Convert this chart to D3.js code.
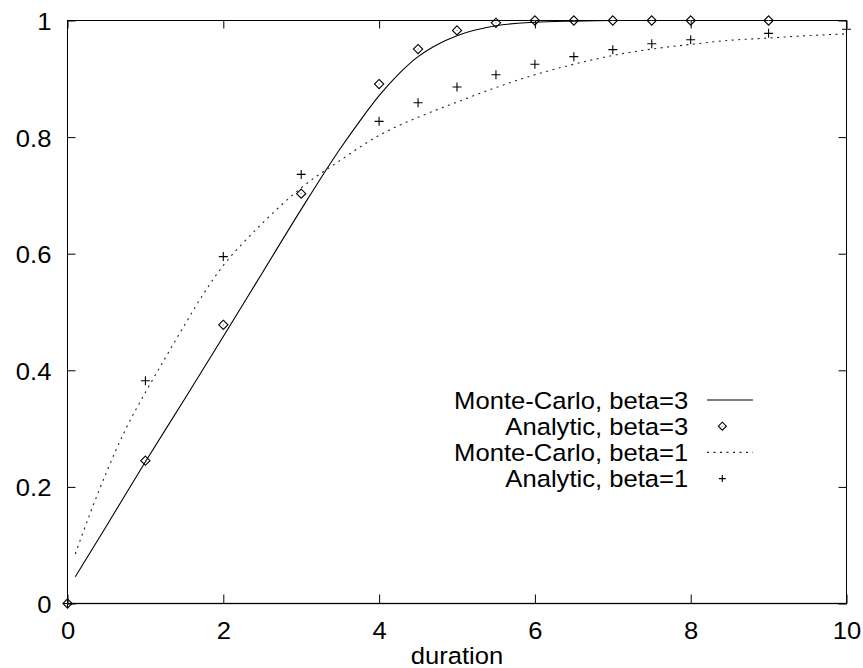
<!DOCTYPE html>
<html>
<head>
<meta charset="utf-8">
<script src="https://cdn.jsdelivr.net/npm/d3@7"></script>
<style>
  body { margin: 0; background: #fff; }
  svg text { font-family: "Liberation Sans", Arial, Helvetica, sans-serif; font-size: 23.5px; fill: #000; }
</style>
</head>
<body>
<svg id="chart" width="863" height="668"></svg>
<script>
// values

// Monte-Carlo curves (duration, probability)
var mcBeta3X = [0.1, 0.5, 1.0, 1.5, 2.0, 2.5, 3.0, 3.5, 3.75, 4.0, 4.25, 4.5, 4.75, 5.0, 5.5, 6.0, 6.5, 7, 8, 9, 10];
var mcBeta3Y = [0.046, 0.133, 0.243, 0.350, 0.458, 0.567, 0.676, 0.780, 0.827, 0.871, 0.908, 0.938, 0.959, 0.974, 0.991, 0.997, 0.999, 1, 1, 1, 1];

var mcBeta1X = [0.1, 0.3, 0.5, 0.75, 1.0, 1.25, 1.5, 1.75, 2.0, 2.25, 2.5, 2.75, 3.0, 3.5, 4.0, 4.5, 5.0, 5.5, 6.0, 6.5, 7.0, 7.5, 8.0, 8.5, 9.0, 9.5, 10];
var mcBeta1Y = [0.085, 0.158, 0.225, 0.300, 0.362, 0.420, 0.477, 0.532, 0.580, 0.618, 0.652, 0.684, 0.713, 0.760, 0.803, 0.834, 0.860, 0.885, 0.907, 0.925, 0.940, 0.951, 0.959, 0.966, 0.970, 0.974, 0.977];

// analytic points
var anBeta3X = [0, 1, 2, 3, 4, 4.5, 5, 5.5, 6, 6.5, 7, 7.5, 8, 9];
var anBeta3Y = [0, 0.245, 0.478, 0.703, 0.891, 0.951, 0.983, 0.996, 1, 1, 1, 1, 1, 1];

var anBeta1X = [0, 1, 2, 3, 4, 4.5, 5, 5.5, 6, 6.5, 7, 7.5, 8, 9, 10];
var anBeta1Y = [0, 0.382, 0.595, 0.736, 0.827, 0.859, 0.886, 0.907, 0.925, 0.938, 0.950, 0.960, 0.967, 0.978, 0.985];

var xTicks = [0, 2, 4, 6, 8, 10];
var yTicks = [0, 0.2, 0.4, 0.6, 0.8, 1];
var xLabel = "duration";
var legendNames = ["Monte-Carlo, beta=3", "Analytic, beta=3", "Monte-Carlo, beta=1", "Analytic, beta=1"];

//-----------------------------------------------------------------

var svg = d3.select("#chart");
var stretch = 1.09; // text in the picture is a bit wider than normal

var x = d3.scaleLinear().domain([0, 10]).range([67.5, 846.5]);
var y = d3.scaleLinear().domain([0, 1]).range([603.5, 20.5]);

function zip(xs, ys) {
  return xs.map(function(v, i) { return [v, ys[i]]; });
}

// zero axis (dotted, under the border)
svg.append("line")
  .attr("x1", x(0)).attr("x2", x(10))
  .attr("y1", y(0)).attr("y2", y(0))
  .attr("stroke", "#666").attr("stroke-width", 2)
  .attr("stroke-dasharray", "1,1");

// axes with inward ticks
var gLeft = svg.append("g").attr("transform", "translate(" + x(0) + ",0)")
  .call(d3.axisLeft(y).tickValues(yTicks).tickSize(-8).tickPadding(14.7)
    .tickFormat(function(d) { return d3.format("")(+d.toFixed(1)); }));
gLeft.selectAll("text")
  .attr("dy", null).attr("y", 9)
  .attr("transform", "scale(" + stretch + ",1)");

var gBottom = svg.append("g").attr("transform", "translate(0," + y(0) + ")")
  .call(d3.axisBottom(x).tickValues(xTicks).tickSize(-9).tickPadding(35.5));
gBottom.selectAll("text")
  .attr("dy", null)
  .attr("transform", "scale(" + stretch + ",1)");

svg.append("g").attr("transform", "translate(0," + y(1) + ")")
  .call(d3.axisTop(x).tickValues(xTicks).tickSize(-8).tickFormat(""));
svg.append("g").attr("transform", "translate(" + x(10) + ",0)")
  .call(d3.axisRight(y).tickValues(yTicks).tickSize(-8).tickFormat(""));

svg.selectAll(".domain").remove();
svg.selectAll(".tick line").attr("stroke", "#000");

// border
svg.append("rect")
  .attr("x", x(0)).attr("y", y(1))
  .attr("width", x(10) - x(0)).attr("height", y(0) - y(1))
  .attr("fill", "none").attr("stroke", "#000").attr("stroke-width", 1);

// x label
svg.append("text")
  .attr("text-anchor", "middle")
  .attr("transform", "translate(" + ((x(0) + x(10)) / 2) + ",663.5) scale(" + stretch + ",1)")
  .text(xLabel);

// curves
var line = d3.line()
  .x(function(d) { return x(d[0]); })
  .y(function(d) { return y(d[1]); })
  .curve(d3.curveMonotoneX);

svg.append("path")
  .attr("d", line(zip(mcBeta3X, mcBeta3Y)))
  .attr("fill", "none").attr("stroke", "#000").attr("stroke-width", 1.1);

svg.append("path")
  .attr("d", line(zip(mcBeta1X, mcBeta1Y)))
  .attr("fill", "none").attr("stroke", "#222").attr("stroke-width", 1.1)
  .attr("stroke-dasharray", "2,4.5");

// markers
function diamond(g, cx, cy, r) {
  g.append("path")
    .attr("d", "M" + cx + "," + (cy - r) + "L" + (cx + r) + "," + cy + "L" + cx + "," + (cy + r) + "L" + (cx - r) + "," + cy + "Z")
    .attr("fill", "none").attr("stroke", "#000").attr("stroke-width", 1.1);
  g.append("rect").attr("x", cx - 0.5).attr("y", cy - 0.5).attr("width", 1).attr("height", 1).attr("fill", "#666");
}
function plus(g, cx, cy, r) {
  g.append("path")
    .attr("d", "M" + (cx - r) + "," + cy + "H" + (cx + r) + "M" + cx + "," + (cy - r) + "V" + (cy + r))
    .attr("fill", "none").attr("stroke", "#000").attr("stroke-width", 1.1);
}

var gPts = svg.append("g");
zip(anBeta3X, anBeta3Y).forEach(function(d) { diamond(gPts, x(d[0]), y(d[1]), 4.6); });
zip(anBeta1X, anBeta1Y).forEach(function(d) { plus(gPts, x(d[0]), y(d[1]), 4.5); });

// legend
var legend = svg.append("g");
var legTextX = 688.3, legBase = 408.7, legStep = 26.2;
legendNames.forEach(function(name, i) {
  var base = legBase + i * legStep;
  var cy = base - 8.7;
  legend.append("text")
    .attr("text-anchor", "end")
    .attr("transform", "translate(" + legTextX + "," + base + ") scale(" + stretch + ",1)")
    .text(name);
  if (i == 0) {
    legend.append("line").attr("x1", 707).attr("x2", 753).attr("y1", cy).attr("y2", cy)
      .attr("stroke", "#000").attr("stroke-width", 1.1);
  } else if (i == 2) {
    legend.append("line").attr("x1", 707).attr("x2", 753).attr("y1", cy).attr("y2", cy)
      .attr("stroke", "#222").attr("stroke-width", 1.1).attr("stroke-dasharray", "2,4.5");
  } else if (i == 1) {
    diamond(legend, 722.3, cy, 4);
  } else {
    plus(legend, 722.3, cy, 3.5);
  }
});
</script>
</body>
</html>
